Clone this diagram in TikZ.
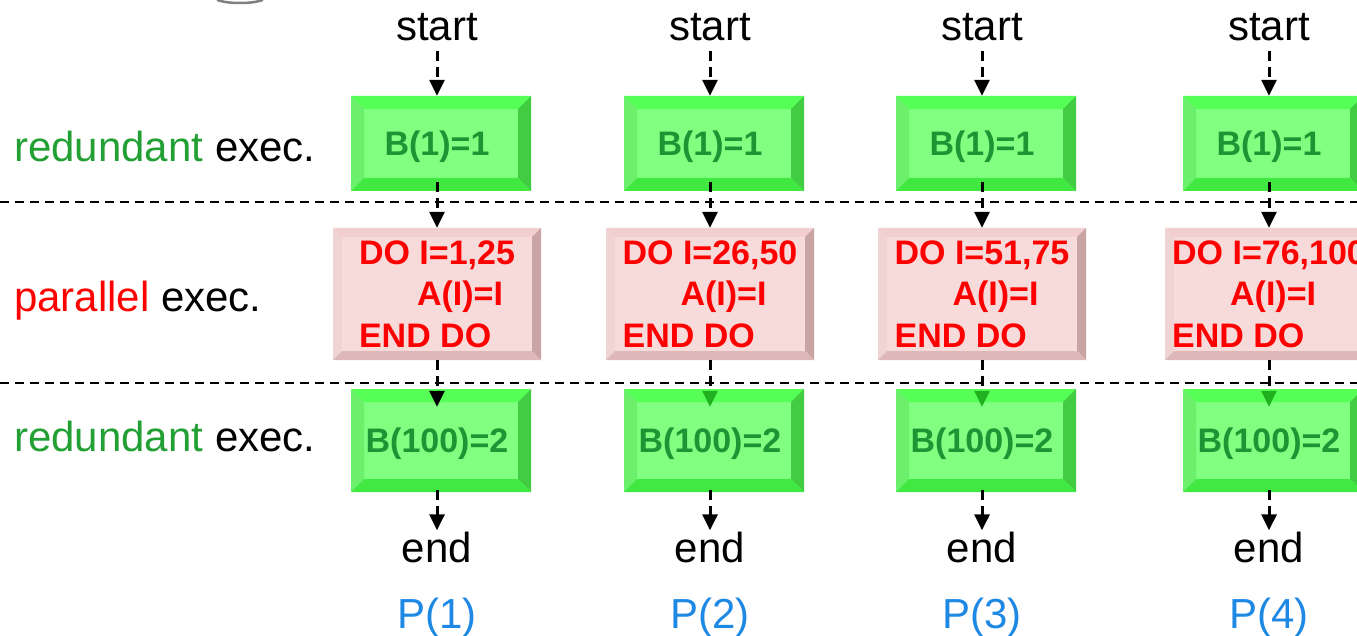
\documentclass[tikz,border=0pt]{standalone}
\usepackage{fontspec}
\setmainfont{Liberation Sans}
\usetikzlibrary{arrows.meta}
\definecolor{lblgreen}{RGB}{34,160,52}
\definecolor{txtgreen}{RGB}{28,150,52}
\definecolor{pblue}{RGB}{30,136,229}
\definecolor{gface}{RGB}{128,255,128}
\definecolor{gtop}{RGB}{85,255,85}
\definecolor{gleft}{RGB}{108,240,108}
\definecolor{gright}{RGB}{66,204,66}
\definecolor{gbot}{RGB}{66,232,66}
\definecolor{pface}{RGB}{247,218,218}
\definecolor{ptop}{RGB}{243,206,206}
\definecolor{pleft}{RGB}{240,212,212}
\definecolor{pright}{RGB}{200,164,164}
\definecolor{pbot}{RGB}{222,184,184}
\definecolor{tipgreen}{RGB}{32,176,32}
\tikzset{
  bevel/.style n args={5}{path picture={
    \coordinate (NW) at (path picture bounding box.north west);
    \coordinate (NE) at (path picture bounding box.north east);
    \coordinate (SW) at (path picture bounding box.south west);
    \coordinate (SE) at (path picture bounding box.south east);
    \fill[#2] (NW) -- (NE) -- ([shift={(-#1,#1)}]NE) -- ([shift={(#1,#1)}]NW) -- cycle;
    \fill[#3] (NW) -- ([shift={(#1,#1)}]NW) -- ([shift={(#1,-#1)}]SW) -- (SW) -- cycle;
    \fill[#4] (NE) -- (SE) -- ([shift={(-#1,-#1)}]SE) -- ([shift={(-#1,#1)}]NE) -- cycle;
    \fill[#5] (SW) -- (SE) -- ([shift={(-#1,-#1)}]SE) -- ([shift={(#1,-#1)}]SW) -- cycle;
  }},
  boxfont/.style={font=\fontsize{34}{41.5}\selectfont\bfseries},
  gbox/.style={boxfont, minimum width=180pt, minimum height=95pt, inner sep=0pt,
    text height=24.5pt, text depth=0pt,
    fill=gface, bevel={13}{gtop}{gleft}{gright}{gbot}, text=txtgreen},
  pbox/.style={boxfont, minimum width=208pt, minimum height=132pt, inner sep=0pt,
    fill=pface, bevel={9}{ptop}{pleft}{pright}{pbot}, text=red, align=left},
  lbl/.style={font=\fontsize{42}{50}\selectfont, inner sep=1pt},
  arr/.style={line width=3pt, dash pattern=on 10pt off 6pt,
    -{Triangle[width=15pt,length=16pt]}},
  arrg/.style={line width=3pt, dash pattern=on 10pt off 6pt,
    -{Triangle[width=15pt,length=16pt,color=tipgreen]}},
  sepline/.style={line width=2pt, dash pattern=on 9pt off 6pt},
}
\begin{document}
\begin{tikzpicture}[x=1pt,y=-1pt]
\useasboundingbox (0,0) rectangle (1357,636);
\fill[white] (0,0) rectangle (1357,636);
\draw[line width=2.5pt, gray] (217,0) .. controls (228,4) and (252,4) .. (263,0);

\node[lbl, anchor=base west] (r1) at (13,162) {\textcolor{lblgreen}{redundant} exec.};
\node[lbl, anchor=base west] (r2) at (13,312) {\textcolor{red}{parallel} exec.};
\node[lbl, anchor=base west] (r3) at (13,451) {\textcolor{lblgreen}{redundant} exec.};

\draw[sepline] (0,202) -- (1357,202);
\draw[sepline] (0,383) -- (1357,383);

\foreach \i/\c/\lo/\hi/\st in {1/437/1/25/arr,2/710/26/50/arrg,3/982/51/75/arrg,4/1269/76/100/arrg}{
  \node[lbl, anchor=base] (s\i) at (\c,41) {start};
  \node[gbox] (g\i) at ({\c+4},143.5) {\kern-8pt B(1)=1};
  \node[pbox] (p\i) at (\c,294) {DO I=\lo,\hi\\\hspace*{58pt}A(I)=I\\END DO};
  \node[gbox, minimum height=103pt] (h\i) at ({\c+4},440.5) {\kern-8pt B(100)=2};
  \node[lbl, anchor=base] (e\i) at (\c,562) {end};
  \node[lbl, anchor=base, text=pblue] (q\i) at (\c,628) {P(\i)};
  \draw[arr, shorten <=8pt] (s\i.south) -- (s\i.south |- g\i.north);
  \draw[arr] ([yshift=9pt]g\i.south -| s\i.south) -- (s\i.south |- p\i.north);
  \draw[\st] (s\i.south |- p\i.south) -- ([yshift=-18pt]h\i.north -| s\i.south);
  \draw[arr] ([yshift=2pt]h\i.south -| s\i.south) -- (e\i.north);
}
\end{tikzpicture}
\end{document}
